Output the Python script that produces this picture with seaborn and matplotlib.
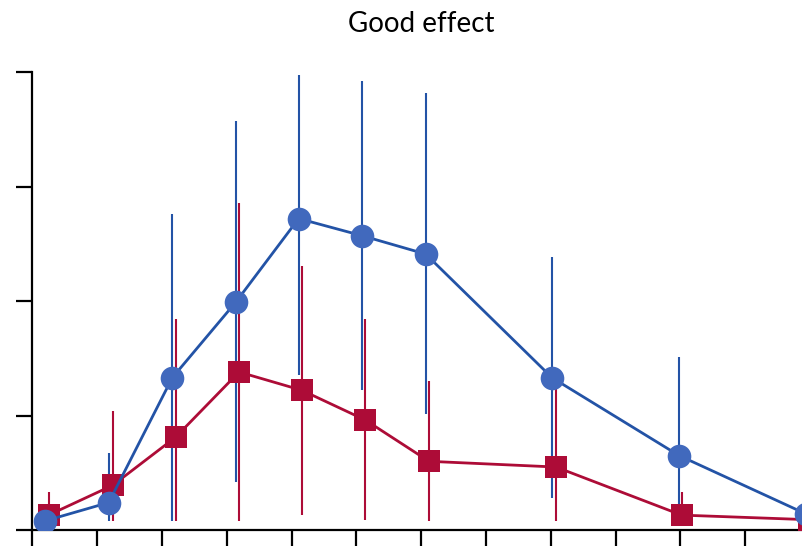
import matplotlib
matplotlib.use("Agg")
import matplotlib.pyplot as plt
import seaborn as sns

# Group positions on the x axis (tick units) and summary values with interval bounds
blue_x = [0.20, 1.18, 2.16, 3.14, 4.11, 5.09, 6.07, 8.02, 9.98, 11.94]
blue_mean = [0.08, 0.24, 1.33, 1.99, 2.72, 2.57, 2.41, 1.33, 0.65, 0.14]
blue_low = [0.02, 0.08, 0.08, 0.42, 1.35, 1.22, 1.01, 0.28, 0.12, 0.05]
blue_high = [0.15, 0.67, 2.76, 3.57, 3.97, 3.92, 3.82, 2.38, 1.51, 0.20]

red_x = [0.25, 1.24, 2.21, 3.19, 4.16, 5.14, 6.12, 8.08, 10.02, 11.98]
red_mean = [0.13, 0.39, 0.81, 1.38, 1.22, 0.96, 0.60, 0.55, 0.13, 0.09]
red_low = [0.04, 0.08, 0.08, 0.08, 0.13, 0.09, 0.08, 0.08, 0.05, 0.03]
red_high = [0.33, 1.04, 1.84, 2.86, 2.31, 1.84, 1.30, 1.25, 0.33, 0.15]

x_ticks = list(range(0, 13))
y_ticks = [0, 1, 2, 3, 4]

BLUE_LINE = "#2353a6"
BLUE_FILL = "#4169bd"
RED = "#ad0c37"

sns.set_style("white")
plt.rcParams["font.family"] = ["Lato", "DejaVu Sans"]

fig = plt.figure(figsize=(8.03, 5.48), dpi=100)
ax = fig.add_axes([32.3 / 803, 18 / 548, (810 - 32.3) / 803, (530 - 72) / 548])

# interval bars
ax.vlines(red_x, red_low, red_high, color=RED, linewidth=1.5, zorder=2)
ax.vlines(blue_x, blue_low, blue_high, color=BLUE_LINE, linewidth=1.5, zorder=2)

# means joined by lines
sns.lineplot(x=red_x, y=red_mean, ax=ax, color=RED, linewidth=2.0,
             marker="s", markersize=15.5, markeredgewidth=0,
             markerfacecolor=RED, errorbar=None, sort=False, zorder=3)
sns.lineplot(x=blue_x, y=blue_mean, ax=ax, color=BLUE_LINE, linewidth=2.0,
             marker="o", markersize=17, markeredgewidth=0,
             markerfacecolor=BLUE_FILL, errorbar=None, sort=False, zorder=4)

ax.set_xlim(0, 12)
ax.set_ylim(0, 4)
ax.set_xticks(x_ticks)
ax.set_yticks(y_ticks)
ax.set_xticklabels([])
ax.set_yticklabels([])
ax.tick_params(axis="both", direction="out", length=11.5, width=1.6,
               color="black", bottom=True, left=True)
for side in ("top", "right"):
    ax.spines[side].set_visible(False)
for side in ("left", "bottom"):
    ax.spines[side].set_color("black")
    ax.spines[side].set_linewidth(1.6)

ax.set_title("Good effect", fontsize=20, pad=29, color="black")
ax.set_xlabel("")
ax.set_ylabel("")

fig.savefig("out.png", dpi=100)
